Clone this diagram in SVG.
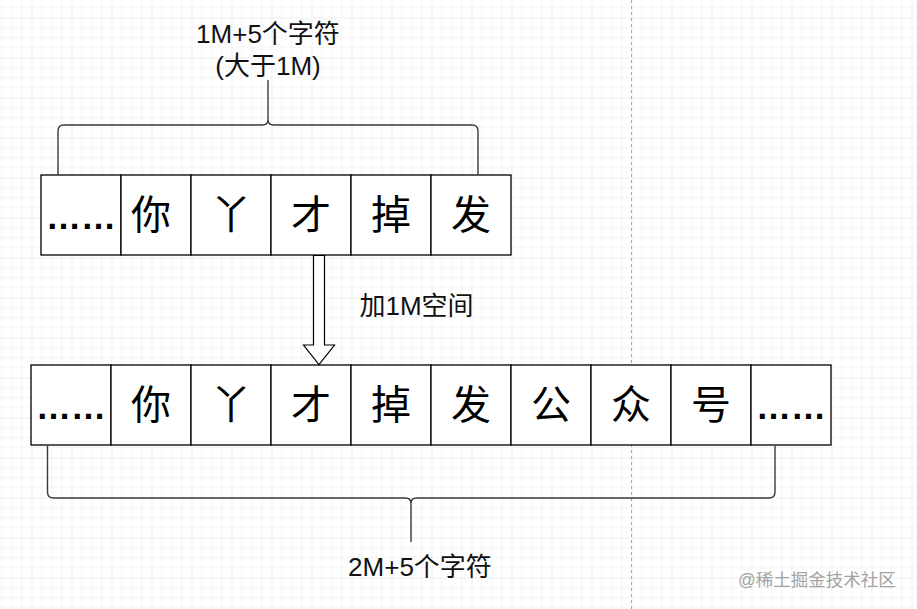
<svg xmlns="http://www.w3.org/2000/svg" width="917" height="609" viewBox="0 0 917 609">
  <style>
    .cell { fill: #ffffff; stroke: #000000; stroke-width: 1.3; }
    .ch { font-family: "Liberation Sans", "Noto Sans CJK SC", sans-serif; font-size: 40px; fill: #000000; text-anchor: middle; }
    .dots { font-family: "Liberation Sans", sans-serif; font-size: 35px; font-weight: bold; fill: #000000; text-anchor: middle; }
    .lbl { font-family: "Liberation Sans", "Noto Sans CJK SC", sans-serif; font-size: 26px; fill: #111111; }
    .brace { fill: none; stroke: #3a3a3a; stroke-width: 1.4; }
    .arrow { fill: #ffffff; stroke: #000000; stroke-width: 1.2; stroke-linejoin: miter; }
    .wm { font-family: "Liberation Sans", "Noto Sans CJK SC", sans-serif; font-size: 17.5px; fill: #a3a3a3; }
  </style>
  <defs>
    <pattern id="grid" patternUnits="userSpaceOnUse" x="31.5" y="17.5" width="40" height="40">
      <path d="M10,0 V40 M20,0 V40 M30,0 V40 M0,10 H40 M0,20 H40 M0,30 H40" fill="none" stroke="#f2f2f2" stroke-width="1"/>
      <path d="M0,0 V40 M0,0 H40" fill="none" stroke="#dedede" stroke-width="1"/>
    </pattern>
  </defs>

  <rect x="0" y="0" width="917" height="609" fill="#ffffff"/>
  <rect x="0" y="0" width="917" height="609" fill="url(#grid)"/>
  <line x1="631.5" y1="0" x2="631.5" y2="609" stroke="#a8a8a8" stroke-width="1" stroke-dasharray="3,3"/>

  <!-- top row -->
  <g id="top-dots"><rect class="cell" x="41" y="175" width="80" height="80"/><text class="dots" x="81" y="229">……</text></g>
  <g id="top-ni"><rect class="cell" x="121" y="175" width="70" height="80"/><text class="ch" x="151" y="229">你</text></g>
  <g id="top-ya"><rect class="cell" x="191" y="175" width="80" height="80"/><text class="ch" x="231" y="229">丫</text></g>
  <g id="top-cai"><rect class="cell" x="271" y="175" width="80" height="80"/><text class="ch" x="311" y="229">才</text></g>
  <g id="top-diao"><rect class="cell" x="351" y="175" width="80" height="80"/><text class="ch" x="391" y="229">掉</text></g>
  <g id="top-fa"><rect class="cell" x="431" y="175" width="80" height="80"/><text class="ch" x="471" y="229">发</text></g>

  <!-- bottom row -->
  <g id="bot-dots1"><rect class="cell" x="31" y="365" width="80" height="80"/><text class="dots" x="71" y="419">……</text></g>
  <g id="bot-ni"><rect class="cell" x="111" y="365" width="80" height="80"/><text class="ch" x="151" y="419">你</text></g>
  <g id="bot-ya"><rect class="cell" x="191" y="365" width="80" height="80"/><text class="ch" x="231" y="419">丫</text></g>
  <g id="bot-cai"><rect class="cell" x="271" y="365" width="80" height="80"/><text class="ch" x="311" y="419">才</text></g>
  <g id="bot-diao"><rect class="cell" x="351" y="365" width="80" height="80"/><text class="ch" x="391" y="419">掉</text></g>
  <g id="bot-fa"><rect class="cell" x="431" y="365" width="80" height="80"/><text class="ch" x="471" y="419">发</text></g>
  <g id="bot-gong"><rect class="cell" x="511" y="365" width="80" height="80"/><text class="ch" x="551" y="419">公</text></g>
  <g id="bot-zhong"><rect class="cell" x="591" y="365" width="80" height="80"/><text class="ch" x="631" y="419">众</text></g>
  <g id="bot-hao"><rect class="cell" x="671" y="365" width="80" height="80"/><text class="ch" x="711" y="419">号</text></g>
  <g id="bot-dots2"><rect class="cell" x="751" y="365" width="80" height="80"/><text class="dots" x="791" y="419">……</text></g>

  <!-- connectors -->
  <g id="connectors">
    <path class="brace" d="M58,175 V131 Q58,125 64,125 H262.5 Q268,125 268,119.5 Q268,125 273.5,125 H472 Q478,125 478,131 V175 M268,119.5 V80"/>
    <path class="brace" d="M47.5,446 V492 Q47.5,498 53.5,498 H405.5 Q411,498 411,503.5 Q411,498 416.5,498 H769 Q775,498 775,492 V446 M411,503.5 V542"/>
    <path class="arrow" d="M313.5,255.5 H324.5 V345 H334.5 L319,364.5 L303.5,345 H313.5 Z"/>
  </g>

  <!-- labels -->
  <g id="label-top">
    <text class="lbl" x="268" y="43" text-anchor="middle">1M+5个字符</text>
    <text class="lbl" x="268" y="75" text-anchor="middle">(大于1M)</text>
  </g>
  <g id="label-add"><text class="lbl" x="359.5" y="315">加1M空间</text></g>
  <g id="label-bottom"><text class="lbl" x="420" y="576" text-anchor="middle">2M+5个字符</text></g>

  <text class="wm" x="738" y="586">@稀土掘金技术社区</text>
</svg>
